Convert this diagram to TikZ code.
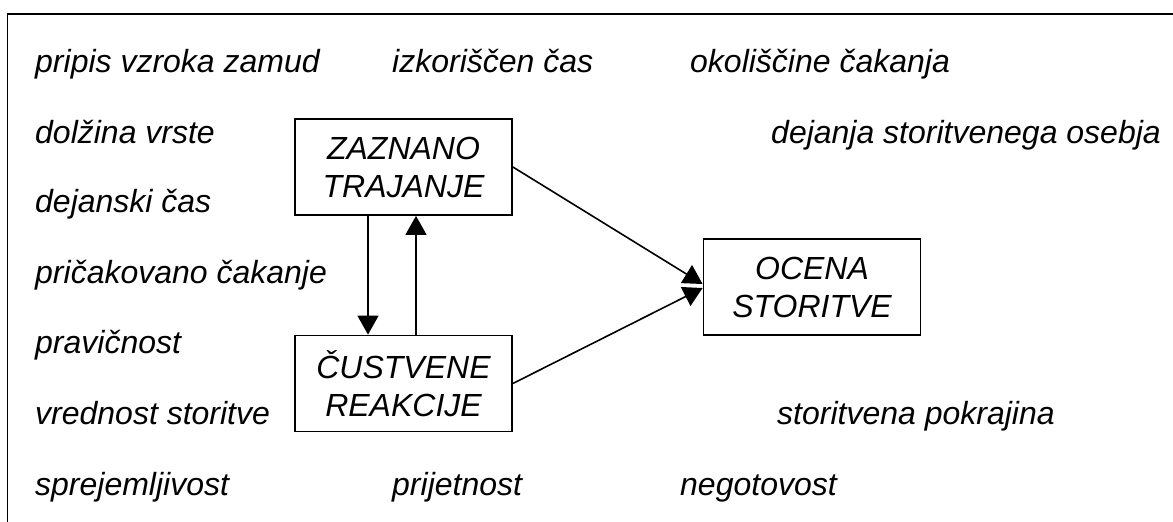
\documentclass[tikz,border=0pt]{standalone}
\usepackage{fontspec}
\setmainfont{Liberation Sans}
\usetikzlibrary{arrows.meta}
\begin{document}
\begin{tikzpicture}[x=1pt,y=-1pt,
  lbl/.style={anchor=base west,inner sep=0pt,font=\fontsize{32}{38}\selectfont\itshape},
  box/.style={draw,line width=1.8pt,inner sep=0pt,align=center,minimum width=217pt,minimum height=96pt,font=\fontsize{32}{38}\selectfont\itshape},
  arr/.style={line width=1.6pt,-{Triangle[length=19pt,width=21pt]}},
  frame/.style={line width=1.8pt}]
\useasboundingbox (0,0) rectangle (1173,522);
\coordinate (fbl) at (7.5,522);
\coordinate (ftl) at (7.5,14);
\coordinate (ftr) at (1173,14);
\draw[frame] (fbl) -- (ftl) -- (ftr);
% labels
\node[lbl] (l1) at (35,72) {pripis vzroka zamud};
\node[lbl] (l2) at (392,72) {izkoriščen čas};
\node[lbl] (l3) at (690,72) {okoliščine čakanja};
\node[lbl] (l4) at (35,143) {dolžina vrste};
\node[lbl] (l5) at (771,143) {dejanja storitvenega osebja};
\node[lbl] (l6) at (35,212) {dejanski čas};
\node[lbl] (l7) at (35,283) {pričakovano čakanje};
\node[lbl] (l8) at (35,353) {pravičnost};
\node[lbl] (l9) at (35,424) {vrednost storitve};
\node[lbl] (l10) at (777,424) {storitvena pokrajina};
\node[lbl] (l11) at (35,495) {sprejemljivost};
\node[lbl] (l12) at (392,495) {prijetnost};
\node[lbl] (l13) at (680,495) {negotovost};
% boxes
\node[box] (zt) at (403.5,167) {ZAZNANO\\TRAJANJE};
\node[box] (cr) at (403.5,383.5) {ČUSTVENE\\REAKCIJE};
\node[box] (oc) at (812,287) {OCENA\\STORITVE};
% connectors
\draw[arr] ([xshift=-35.5pt]zt.south) -- ([xshift=-35.5pt]cr.north);
\draw[arr] ([xshift=12.5pt]cr.north) -- ([xshift=12.5pt]zt.south);
\draw[arr] (zt.east) -- ([yshift=3pt]oc.west);
\draw[arr] (cr.east) -- ([yshift=-1pt]oc.west);
\end{tikzpicture}
\end{document}
